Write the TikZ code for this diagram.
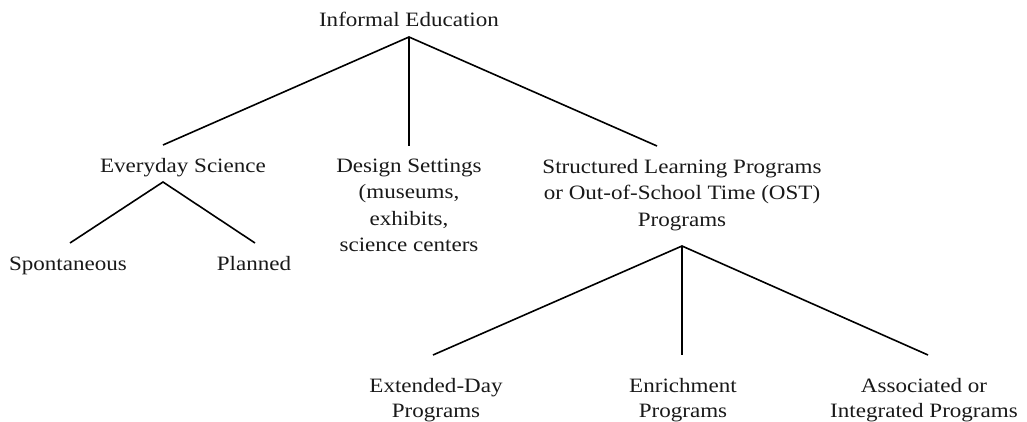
\documentclass[tikz,border=0pt]{standalone}
\usepackage{fontspec}
\setmainfont{Liberation Serif}[FakeStretch=1.13]
\begin{document}
\begin{tikzpicture}[x=1pt,y=-1pt,
  lbl/.style={anchor=base,inner sep=0pt,align=center,text=black!90,
    font=\fontsize{20.4}{26.5}\selectfont},
  lblb/.style={lbl,font=\fontsize{20.4}{25}\selectfont},
  edge/.style={line width=1.6pt,black}]
\useasboundingbox (0,0) rectangle (1027,422);
% nodes (base anchor = baseline of the last line)
\node[lbl] (root) at (409,27) {Informal Education};
\node[lbl] (es) at (183,173) {Everyday Science};
\node[lbl] (ds) at (409,251.5) {Design Settings\\(museums,\\exhibits,\\science centers};
\node[lbl] (sl) at (682,226) {Structured Learning Programs\\or Out-of-School Time (OST)\\Programs};
\node[lbl] (sp) at (68,270) {Spontaneous};
\node[lbl] (pl) at (254,270) {Planned};
\node[lblb] (ed) at (436,417) {Extended-Day\\Programs};
\node[lblb] (en) at (683,417) {Enrichment\\Programs};
\node[lblb] (as) at (924,417) {Associated or\\Integrated Programs};
% connector end points
\coordinate (r0) at (409,37);
\coordinate (esT) at (163,145);
\coordinate (dsT) at (409,146);
\coordinate (slT) at (657,146);
\coordinate (esB) at (163,182);
\coordinate (spT) at (70,243);
\coordinate (plT) at (255,243);
\coordinate (slB) at (682,246);
\coordinate (edT) at (433,355);
\coordinate (enT) at (682,355);
\coordinate (asT) at (928,355);
% connectors
\draw[edge] (esT) -- (r0) -- (slT);
\draw[edge] (r0) -- (dsT);
\draw[edge] (spT) -- (esB) -- (plT);
\draw[edge] (edT) -- (slB) -- (asT);
\draw[edge] (slB) -- (enT);
\end{tikzpicture}
\end{document}
